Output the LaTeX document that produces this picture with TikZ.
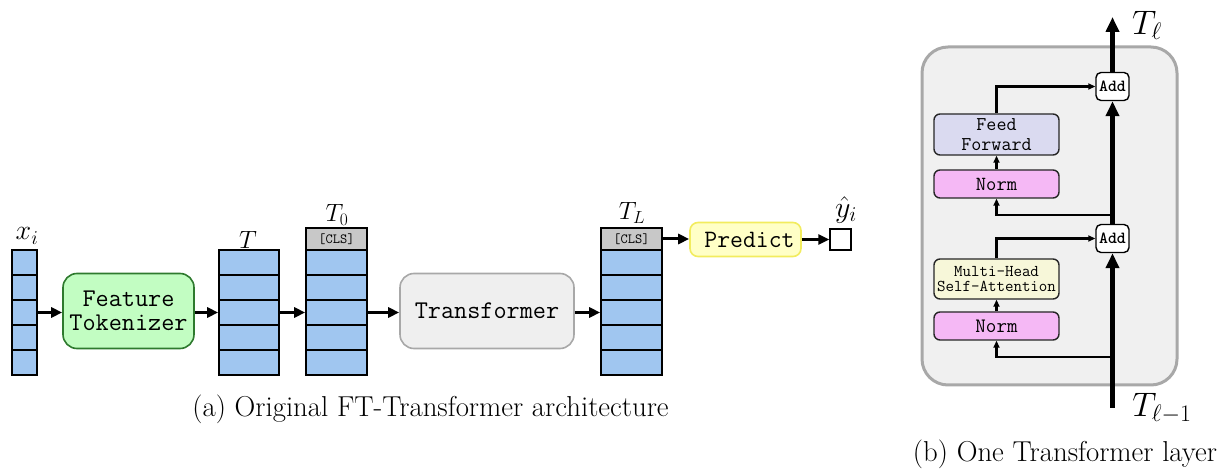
\RequirePackage{fix-cm}
\documentclass[tikz,border=0pt]{standalone}
\usepackage{fontspec}
\usetikzlibrary{arrows.meta}

\definecolor{cellblue}{HTML}{A0C6F0}
\definecolor{clsgray}{HTML}{C8C8C8}
\definecolor{ftfill}{HTML}{C2FDC2}
\definecolor{ftdraw}{HTML}{2E7A2E}
\definecolor{trfill}{HTML}{EFEFEF}
\definecolor{trdraw}{HTML}{A8A8A8}
\definecolor{prfill}{HTML}{FFFFC6}
\definecolor{prdraw}{HTML}{F2EC5E}
\definecolor{normfill}{HTML}{F5B8F5}
\definecolor{mhfill}{HTML}{F7F7D9}
\definecolor{fffill}{HTML}{DADAF0}
\definecolor{layerfill}{HTML}{F0F0F0}

\begin{document}
\begin{tikzpicture}[x=1pt,y=-1pt,
  cell/.style={draw=black,line width=1.6pt,fill=cellblue,minimum width=#1,minimum height=25pt,inner sep=0pt},
  clscell/.style={draw=black,line width=1.6pt,fill=clsgray,minimum width=#1,minimum height=22pt,inner sep=0pt,
    font=\fontsize{14}{14}\selectfont\ttfamily},
  bigbox/.style={rounded corners=14pt,line width=1.6pt,minimum width=#1,minimum height=75pt,inner sep=0pt,
    align=center,font=\fontsize{25.5}{24}\selectfont\ttfamily},
  flow/.style={line width=3pt,-{Triangle[length=11pt,width=10pt]}},
  lbl/.style={inner sep=0pt,font=\fontsize{25}{26}\selectfont},
  caption/.style={inner sep=0pt,font=\fontsize{28.8}{30}\selectfont},
  layerbox/.style={draw=black!85,line width=1.4pt,rounded corners=6pt,minimum width=125pt,inner sep=0pt,
    align=center,font=\fontsize{#1}{#1}\selectfont\ttfamily},
  addbox/.style={draw=black,fill=white,line width=1.4pt,rounded corners=5pt,minimum width=33pt,minimum height=28pt,
    inner sep=0pt,font=\fontsize{17}{17}\selectfont\ttfamily\bfseries},
  mainflow/.style={line width=4.4pt,-{Triangle[length=15pt,width=13pt]}},
  side/.style={line width=2.4pt,-{Triangle[length=7pt,width=6pt]}},
  ]
\useasboundingbox (0,0) rectangle (1227,470);

% ---------- (a) FT-Transformer pipeline ----------
\foreach \k in {0,...,4} {
  \node[cell=25pt] (x\k) at (24.5,{262.5+25*\k}) {};
  \node[cell=60pt] (t\k) at (249,{262.5+25*\k}) {};
  \node[cell=61pt] (z\k) at (336.5,{262.5+25*\k}) {};
  \node[cell=61pt] (l\k) at (631.5,{262.5+25*\k}) {};
}
\node[clscell=61pt] (zcls) at (336.5,239) {[CLS]};
\node[clscell=61pt] (lcls) at (631.5,239) {[CLS]};

\node[lbl,font=\fontsize{28}{28}\selectfont] (xlab) at (27,236) {$x_i$};
\node[lbl] (tlab) at (248,240) {$T$};
\node[lbl] (zlab) at (337,215) {$T_0$};
\node[lbl] (llab) at (632,213) {$T_L$};

\node[bigbox=131pt,draw=ftdraw,fill=ftfill] (ft) at (128.5,311) {Feature\\Tokenizer};
\node[bigbox=174pt,draw=trdraw,fill=trfill] (tr) at (487,311) {Transformer};
\node[draw=prdraw,fill=prfill,line width=1.6pt,rounded corners=8pt,minimum width=111pt,minimum height=34pt,
  inner sep=0pt,font=\fontsize{25}{24}\selectfont\ttfamily] (pr) at (745.5,239.5) {\hspace*{8pt}Predict};
\node[draw=black,line width=1.4pt,fill=white,minimum width=21pt,minimum height=21pt,inner sep=0pt] (yout) at (840.5,239.5) {};
\node[lbl,font=\fontsize{30}{30}\selectfont] (ylab) at (846,210) {$\hat{y}_i$};

\draw[flow] (x2.east) -- (x2.east -| ft.west);
\draw[flow] (ft.east |- t2.west) -- (t2.west);
\draw[flow] (t2.east) -- (z2.west);
\draw[flow] (z2.east) -- (z2.east -| tr.west);
\draw[flow] (tr.east |- l2.west) -- (l2.west);
\draw[flow] (lcls.east) -- (lcls.east -| pr.west);
\draw[flow] (pr.east) -- (yout.west);

\node[caption] (capa) at (430.5,409) {(a) Original FT-Transformer architecture};

% ---------- (b) one Transformer layer ----------
\node[draw=trdraw,fill=layerfill,line width=3pt,rounded corners=26pt,minimum width=255pt,minimum height=338pt,inner sep=0pt]
  (layer) at (1049.5,216) {};

\node[addbox] (add1) at (1112.5,238.5) {Add};
\node[addbox] (add2) at (1112.5,86.5) {Add};
\node[layerbox=20.5,fill=normfill,minimum height=28pt] (norm1) at (996.5,326) {Norm};
\node[layerbox=16.5,fill=mhfill,minimum height=40pt] (mh) at (996.5,279) {Multi-Head\\[-1pt]Self-Attention};
\node[layerbox=20,fill=normfill,minimum height=28pt] (norm2) at (996.5,184) {Norm};
\node[layerbox=19.5,fill=fffill,minimum height=41pt] (ff) at (996.5,134.5) {Feed\\Forward};

\coordinate (tin) at (1112.5,408);
\coordinate (tout) at (1112.5,17);
\coordinate (br1) at (1112.5,357);
\coordinate (br2) at (1112.5,215);

\draw[mainflow] (tin) -- (add1.south);
\draw[mainflow] (add1.north) -- (add2.south);
\draw[mainflow] (add2.north) -- (tout);

\draw[side] (br1) -| (norm1.south);
\draw[side] (norm1.north) -- (mh.south);
\draw[side] (mh.north) |- (add1.west);
\draw[side] (br2) -| (norm2.south);
\draw[side] (norm2.north) -- (ff.south);
\draw[side] (ff.north) |- (add2.west);

\node[lbl,font=\fontsize{34}{36}\selectfont] (tl) at (1147,25) {$T_\ell$};
\node[lbl,font=\fontsize{34}{36}\selectfont] (tl1) at (1162,408) {$T_{\ell-1}$};

\node[caption] (capb) at (1065,454) {(b) One Transformer layer};
\end{tikzpicture}
\end{document}
